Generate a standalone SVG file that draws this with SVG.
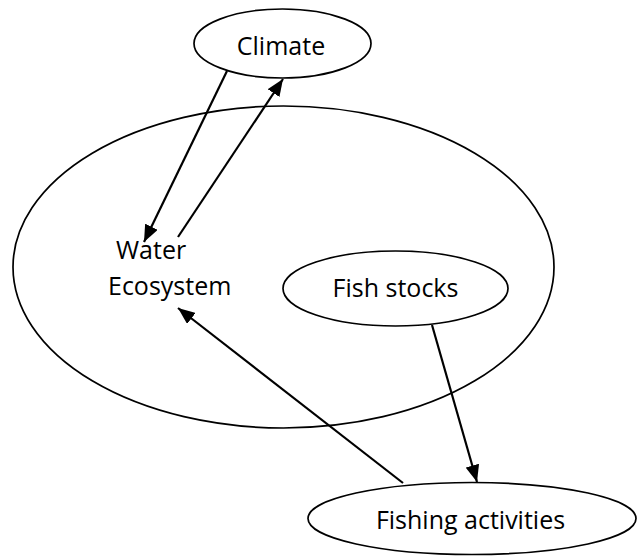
<svg xmlns="http://www.w3.org/2000/svg" width="637" height="556" viewBox="0 0 637 556">
<style>
.node ellipse{fill:none;stroke:#000;stroke-width:1.7}
.lbl{font-family:"Open Sans","Liberation Sans",sans-serif;font-size:25px;fill:#000}
.c{text-anchor:middle}
.edge{stroke:#000;stroke-width:2.2;fill:none}
</style>
<defs>
<marker id="ah" markerUnits="userSpaceOnUse" markerWidth="18" markerHeight="14" refX="17" refY="7" orient="auto">
<path d="M0,0 L17,7 L0,14 z" fill="#000"/>
</marker>
</defs>
<rect width="637" height="556" fill="#fff"/>
<g id="water-ecosystem" class="node">
<ellipse cx="283.5" cy="267" rx="270.5" ry="161"/>
<text class="lbl" x="116" y="259">Water</text>
<text class="lbl" x="108" y="295">Ecosystem</text>
</g>
<g id="climate" class="node">
<ellipse cx="282.5" cy="43.5" rx="88.5" ry="34.5"/>
<text class="lbl c" x="281" y="55">Climate</text>
</g>
<g id="fish-stocks" class="node">
<ellipse cx="395.5" cy="288.5" rx="112.5" ry="37.5"/>
<text class="lbl c" x="395.5" y="297">Fish stocks</text>
</g>
<g id="fishing-activities" class="node">
<ellipse cx="472" cy="518.5" rx="164" ry="36"/>
<text class="lbl c" x="470.5" y="529">Fishing activities</text>
</g>
<g id="connectors">
<line class="edge" x1="227" y1="71" x2="144" y2="242" marker-end="url(#ah)"/>
<line class="edge" x1="178" y1="237" x2="283" y2="79" marker-end="url(#ah)"/>
<line class="edge" x1="432" y1="325" x2="477" y2="482" marker-end="url(#ah)"/>
<line class="edge" x1="403" y1="483" x2="178" y2="308" marker-end="url(#ah)"/>
</g>
</svg>
